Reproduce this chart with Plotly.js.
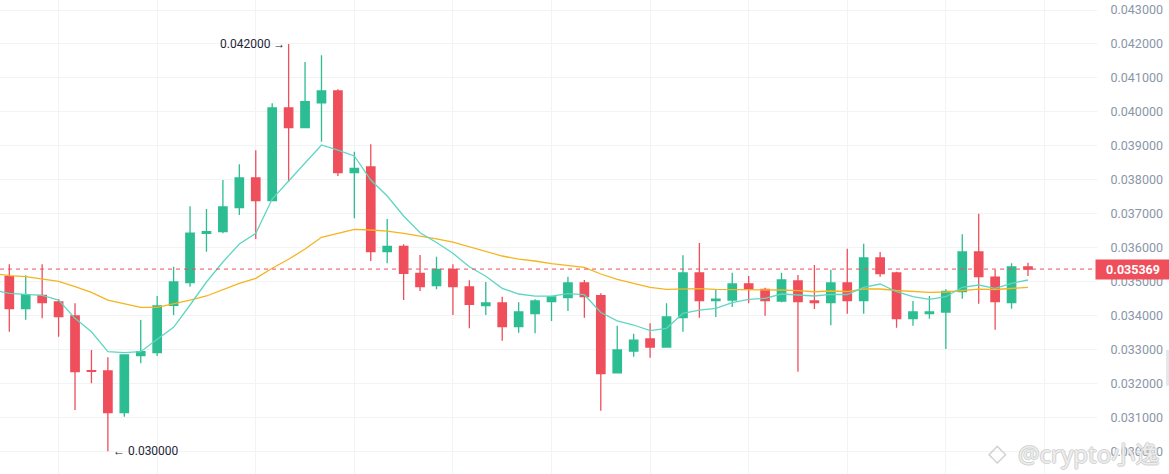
<!DOCTYPE html>
<html><head><meta charset="utf-8">
<script src="https://cdn.plot.ly/plotly-3.0.1.min.js"></script>
<style>html,body{margin:0;padding:0;background:#fff}#chart{width:1169px;height:474px}</style>
</head><body><div id="chart"></div>
<script>
// ---- data ----
const candleIndex = [0,1,2,3,4,5,6,7,8,9,10,11,12,13,14,15,16,17,18,19,20,21,22,23,24,25,26,27,28,29,30,31,32,33,34,35,36,37,38,39,40,41,42,43,44,45,46,47,48,49,50,51,52,53,54,55,56,57,58,59,60,61,62];
const openP = [0.035144,0.034202,0.034596,0.034399,0.033987,0.032380,0.032367,0.031138,0.032819,0.032906,0.034302,0.034968,0.036423,0.036470,0.037177,0.038052,0.037383,0.040114,0.039534,0.040269,0.040614,0.038208,0.038376,0.035881,0.036039,0.035244,0.034879,0.035362,0.034841,0.034291,0.034370,0.033672,0.034055,0.034408,0.034526,0.034959,0.034585,0.032316,0.032956,0.033309,0.033073,0.033937,0.035253,0.034437,0.034458,0.034929,0.034773,0.034429,0.035018,0.034429,0.034379,0.034959,0.034437,0.035695,0.035253,0.033907,0.034055,0.034105,0.034703,0.035872,0.035135,0.034379,0.035430];
const highP = [0.035510,0.035186,0.035510,0.034487,0.034361,0.032985,0.032770,0.032850,0.033870,0.034576,0.035439,0.037218,0.037138,0.037993,0.038455,0.038867,0.040252,0.042000,0.041468,0.041666,0.040663,0.038826,0.039044,0.036843,0.036098,0.035784,0.035733,0.035510,0.035038,0.034988,0.034555,0.034391,0.034479,0.034550,0.035144,0.035047,0.034655,0.033701,0.033465,0.033772,0.034361,0.035775,0.036137,0.034773,0.035262,0.035165,0.034820,0.035262,0.035194,0.035489,0.035351,0.035969,0.036116,0.035872,0.035292,0.034429,0.034576,0.034773,0.036393,0.037000,0.035351,0.035539,0.035557];
const lowP = [0.033524,0.033874,0.033919,0.033377,0.031218,0.032004,0.030000,0.031021,0.032594,0.032809,0.034016,0.034850,0.035881,0.036423,0.036962,0.036255,0.037370,0.037943,0.039516,0.039121,0.038111,0.036865,0.035607,0.035539,0.034458,0.034723,0.034773,0.034016,0.033624,0.034016,0.033259,0.033495,0.033477,0.033839,0.034134,0.033937,0.031197,0.032310,0.032790,0.032760,0.033070,0.033524,0.033937,0.033957,0.034252,0.034361,0.033996,0.034390,0.032346,0.034193,0.033713,0.034055,0.034055,0.035144,0.033642,0.033701,0.033907,0.033015,0.034496,0.034349,0.033584,0.034202,0.035165];
const closeP = [0.034202,0.034614,0.034379,0.033966,0.032346,0.032360,0.031138,0.032838,0.032937,0.034281,0.034988,0.036430,0.036470,0.037197,0.038052,0.037383,0.040114,0.039534,0.040298,0.040614,0.038208,0.038337,0.035881,0.036039,0.035244,0.034850,0.035362,0.034850,0.034331,0.034370,0.033672,0.034105,0.034429,0.034546,0.034959,0.034555,0.032287,0.032985,0.033279,0.033073,0.033957,0.035253,0.034437,0.034487,0.034929,0.034782,0.034437,0.035047,0.034408,0.034379,0.034959,0.034437,0.035695,0.035233,0.033907,0.034105,0.034105,0.034714,0.035872,0.035144,0.034408,0.035430,0.035369];

const maIndex = [-1,0,1,2,3,4,5,6,7,8,9,10,11,12,13,14,15,16,17,18,19,20,21,22,23,24,25,26,27,28,29,30,31,32,33,34,35,36,37,38,39,40,41,42,43,44,45,46,47,48,49,50,51,52,53,54,55,56,57,58,59,60,61,62];
const maShort = [0.034758,0.034655,0.034626,0.034596,0.034458,0.033919,0.033524,0.032935,0.032906,0.032935,0.033300,0.033654,0.034311,0.034988,0.035577,0.036108,0.036423,0.037433,0.037963,0.038479,0.039024,0.038876,0.038700,0.037993,0.037521,0.036932,0.036437,0.036152,0.035834,0.035439,0.035156,0.034803,0.034635,0.034570,0.034570,0.034649,0.034614,0.034090,0.033845,0.033722,0.033554,0.033624,0.034066,0.034163,0.034213,0.034378,0.034479,0.034508,0.034635,0.034605,0.034576,0.034626,0.034620,0.034832,0.034929,0.034702,0.034555,0.034479,0.034555,0.034832,0.034900,0.034803,0.034950,0.035047];
const maLong = [0.035244,0.035174,0.035144,0.035077,0.035009,0.034850,0.034685,0.034458,0.034361,0.034243,0.034243,0.034340,0.034458,0.034576,0.034753,0.034950,0.035097,0.035392,0.035657,0.035960,0.036305,0.036423,0.036541,0.036520,0.036485,0.036423,0.036349,0.036261,0.036161,0.036028,0.035892,0.035754,0.035660,0.035607,0.035527,0.035483,0.035421,0.035224,0.035068,0.034950,0.034832,0.034773,0.034791,0.034791,0.034773,0.034773,0.034773,0.034753,0.034753,0.034732,0.034702,0.034723,0.034708,0.034782,0.034782,0.034738,0.034708,0.034685,0.034694,0.034732,0.034776,0.034767,0.034797,0.034832];

const lastPrice = 0.035369;
const highMark = {index:17, value:0.042000, label:'0.042000 →'};
const lowMark = {index:6, value:0.030000, label:'← 0.030000'};
const watermark = '@crypto小逸';

// ---- style ----
const GREEN = '#2dbd92', RED = '#ef4e5b', TEAL = '#5fd6c2', GOLD = '#f5b41e', GRID = '#f2f3f5';
const FONT = 'Roboto, Arial, sans-serif';

const traces = [
  {type:'candlestick', x:candleIndex, open:openP, high:highP, low:lowP, close:closeP,
   increasing:{line:{color:GREEN,width:1.3}, fillcolor:GREEN},
   decreasing:{line:{color:RED,width:1.3}, fillcolor:RED},
   whiskerwidth:0, hoverinfo:'skip'},
  {type:'scatter', mode:'lines', x:maIndex, y:maLong, line:{color:GOLD,width:1.3}, hoverinfo:'skip'},
  {type:'scatter', mode:'lines', x:maIndex, y:maShort, line:{color:TEAL,width:1.3}, hoverinfo:'skip'}
];

const layout = {
  width:1169, height:474,
  margin:{l:0,r:72,t:0,b:0,pad:0},
  paper_bgcolor:'#ffffff', plot_bgcolor:'#ffffff',
  showlegend:false, boxgap:0.27,
  xaxis:{range:[-0.566,66.2], tick0:3, dtick:6, showticklabels:false, showgrid:true, gridcolor:GRID,
         gridwidth:1, zeroline:false, showline:false, rangeslider:{visible:false}, fixedrange:true},
  yaxis:{range:[0.029333,0.043295], side:'right', tick0:0, dtick:0.001, tickformat:'.6f',
         showgrid:true, gridcolor:GRID, zeroline:false, showline:false,
         ticks:'outside', ticklen:10, tickcolor:'rgba(0,0,0,0)',
         tickfont:{family:FONT, size:12.5, color:'#8a96a8'}, fixedrange:true},
  shapes:[
    {type:'line', xref:'paper', yref:'y', x0:0, x1:1.003, y0:lastPrice, y1:lastPrice,
     line:{color:RED, width:1, dash:'4px,4px'}},
    {type:'rect', xref:'paper', yref:'paper', x0:1.0629, x1:1.0666, y0:0.186, y1:0.262,
     line:{width:0}, fillcolor:'#e6e7e9'}
  ],
  annotations:[
    {x:highMark.index, y:highMark.value, xref:'x', yref:'y', text:highMark.label, showarrow:false,
     xanchor:'right', yanchor:'middle', xshift:-2, font:{family:FONT, size:12, color:'#1e2638'}},
    {x:lowMark.index, y:lowMark.value, xref:'x', yref:'y', text:lowMark.label, showarrow:false,
     xanchor:'left', yanchor:'middle', xshift:3, font:{family:FONT, size:12, color:'#1e2638'}},
    {x:1, y:lastPrice, xref:'paper', yref:'y', text:'<b>'+lastPrice.toFixed(6)+'</b>', showarrow:false,
     xanchor:'left', yanchor:'middle', xshift:-2, width:70, height:15, borderpad:2, align:'center',
     bgcolor:RED, font:{family:FONT, size:12.5, color:'#ffffff'}},
    {x:1088/1097, y:1-453/474, xref:'paper', yref:'paper', text:watermark, showarrow:false,
     xanchor:'center', yanchor:'middle',
     font:{family:'Noto Sans, Noto Sans CJK SC, sans-serif', size:24, color:'rgba(255,255,255,0.7)',
           shadow:'1px 0 0 #c4c4c4, -1px 0 0 #c4c4c4, 0 1px 0 #c4c4c4, 0 -1px 0 #c4c4c4'}},
    {x:997/1097, y:1-453/474, xref:'paper', yref:'paper', text:'◇', showarrow:false,
     xanchor:'center', yanchor:'middle', font:{family:'DejaVu Sans, sans-serif', size:24, color:'#cfcfcf'}}
  ]
};

Plotly.newPlot('chart', traces, layout, {staticPlot:true, displayModeBar:false});
</script></body></html>
